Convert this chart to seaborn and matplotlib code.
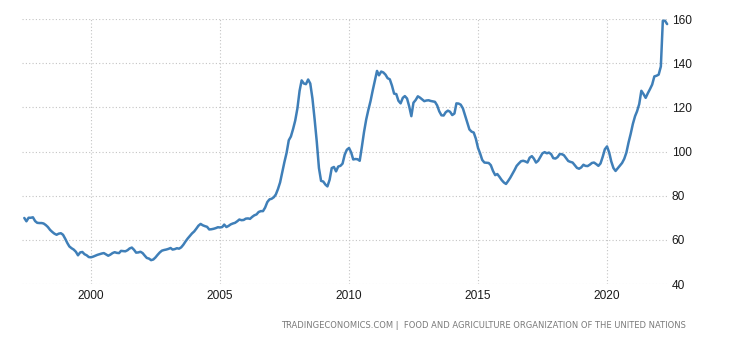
import matplotlib
matplotlib.use("Agg")
import matplotlib.pyplot as plt
import matplotlib.dates as mdates
import numpy as np
import pandas as pd
import seaborn as sns

# FAO food price index, monthly, June 1997 - May 2022
start_month = "1997-06-01"
v1997 = [69.9, 68.4, 70.0, 70.0, 70.2, 68.5, 67.7]
v1998 = [67.6, 67.6, 67.4, 66.7, 65.8, 64.5, 63.6, 62.8, 62.3, 62.8, 63.0, 62.3]
v1999 = [60.5, 58.5, 57.0, 56.2, 55.6, 54.6, 53.0, 54.3, 54.5, 53.5, 53.0, 52.2]
v2000 = [52.1, 52.4, 52.8, 53.2, 53.5, 53.8, 54.0, 53.4, 52.8, 53.3, 54.0, 54.4]
v2001 = [54.1, 54.0, 55.0, 54.9, 54.8, 55.3, 56.1, 56.5, 55.5, 54.2, 54.3, 54.6]
v2002 = [54.0, 52.8, 51.8, 51.5, 50.8, 51.1, 52.0, 53.2, 54.3, 55.1, 55.4, 55.6]
v2003 = [55.9, 56.3, 55.6, 55.8, 56.2, 56.0, 56.6, 57.8, 59.3, 60.6, 61.8, 62.9]
v2004 = [63.8, 65.1, 66.4, 67.2, 66.6, 66.2, 65.9, 64.7, 64.8, 65.0, 65.3, 65.7]
v2005 = [65.6, 65.8, 66.9, 65.8, 66.3, 67.0, 67.4, 67.7, 68.4, 69.2, 68.9, 69.0]
v2006 = [69.6, 69.7, 69.5, 70.4, 71.1, 71.5, 72.6, 73.0, 73.0, 74.6, 77.1, 78.3]
v2007 = [78.6, 79.3, 80.5, 83.0, 86.0, 90.8, 95.2, 99.4, 105.1, 106.8, 110.2, 114.0]
v2008 = [119.5, 127.5, 132.2, 130.8, 130.5, 132.6, 130.8, 124.0, 114.5, 104.5, 92.5, 86.7]
v2009 = [86.4, 85.0, 84.2, 87.2, 92.5, 93.0, 91.0, 93.2, 93.5, 94.5, 98.6, 100.8]
v2010 = [101.6, 99.5, 96.4, 96.6, 96.5, 95.8, 102.0, 108.8, 114.5, 118.8, 122.8, 127.5]
v2011 = [132.0, 136.5, 134.5, 136.2, 135.8, 134.8, 133.2, 132.7, 129.8, 126.2, 126.0, 123.0]
v2012 = [121.8, 124.3, 125.1, 124.0, 120.5, 116.0, 122.1, 123.3, 125.0, 124.4, 123.6, 122.8]
v2013 = [123.1, 123.2, 122.9, 122.7, 122.5, 120.9, 118.2, 116.4, 116.3, 117.8, 118.5, 118.0]
v2014 = [116.5, 117.2, 121.8, 121.7, 121.2, 119.5, 116.4, 113.3, 110.0, 109.0, 108.6, 105.8]
v2015 = [101.6, 99.0, 96.2, 95.0, 94.9, 94.8, 93.8, 91.2, 89.3, 89.8, 88.5, 87.1]
v2016 = [86.0, 85.3, 86.6, 88.1, 89.8, 91.6, 93.5, 94.6, 95.6, 95.8, 95.5, 95.0]
v2017 = [97.2, 97.9, 96.8, 95.0, 95.8, 97.5, 99.2, 99.7, 99.2, 99.5, 98.8, 97.0]
v2018 = [96.8, 97.5, 98.8, 98.8, 98.3, 97.0, 95.7, 95.3, 95.0, 93.8, 92.6, 92.2]
v2019 = [92.8, 94.0, 93.5, 93.4, 94.0, 94.8, 95.0, 94.3, 93.5, 94.6, 97.6, 101.0]
v2020 = [102.3, 99.5, 95.5, 92.5, 91.2, 92.4, 93.5, 94.8, 96.7, 99.5, 104.1, 108.0]
v2021 = [112.5, 116.0, 118.2, 121.5, 127.5, 126.0, 124.3, 126.4, 128.3, 130.3, 134.0, 134.3]
v2022 = [134.8, 138.5, 159.2, 159.2, 157.7]

y_ticks = [40, 60, 80, 100, 120, 140, 160]
x_tick_years = [2000, 2005, 2010, 2015, 2020]
footer = "TRADINGECONOMICS.COM |  FOOD AND AGRICULTURE ORGANIZATION OF THE UNITED NATIONS"

values = (v1997 + v1998 + v1999 + v2000 + v2001 + v2002 + v2003 + v2004 + v2005
          + v2006 + v2007 + v2008 + v2009 + v2010 + v2011 + v2012 + v2013
          + v2014 + v2015 + v2016 + v2017 + v2018 + v2019 + v2020 + v2021 + v2022)
dates = pd.date_range(start_month, periods=len(values), freq="MS")
df = pd.DataFrame({"date": dates, "index": values})

sns.set_theme(style="white")
plt.rcParams["font.family"] = ["Liberation Sans", "DejaVu Sans"]

fig = plt.figure(figsize=(7.3, 3.4), dpi=100)
ax = fig.add_axes([0.0301, 0.1647, 0.8863, 0.7794])

sns.lineplot(data=df, x="date", y="index", ax=ax, color="#3f7fb8", linewidth=1.8)

ax.set_xlim(pd.Timestamp("1997-04-29"), pd.Timestamp("2022-05-27"))
ax.set_ylim(40, 160)
ax.set_yticks(y_ticks)
ax.set_xticks([pd.Timestamp(f"{y}-01-01") for y in x_tick_years])
ax.xaxis.set_major_formatter(mdates.DateFormatter("%Y"))
ax.yaxis.tick_right()

ax.grid(True, color="#c4c4c4", linestyle=(0, (1, 2)), linewidth=0.8)
for s in ax.spines.values():
    s.set_visible(False)
ax.tick_params(axis="both", length=0, labelsize=8.6, colors="#1a1a1a")
ax.tick_params(axis="x", pad=4)
ax.tick_params(axis="y", pad=2)
ax.set_xlabel("")
ax.set_ylabel("")

fig.text(0.9397, 0.044, footer, ha="right", va="center", fontsize=6.0,
         color="#7a7a7a", family="DejaVu Sans")

fig.savefig("out.png", dpi=100)
